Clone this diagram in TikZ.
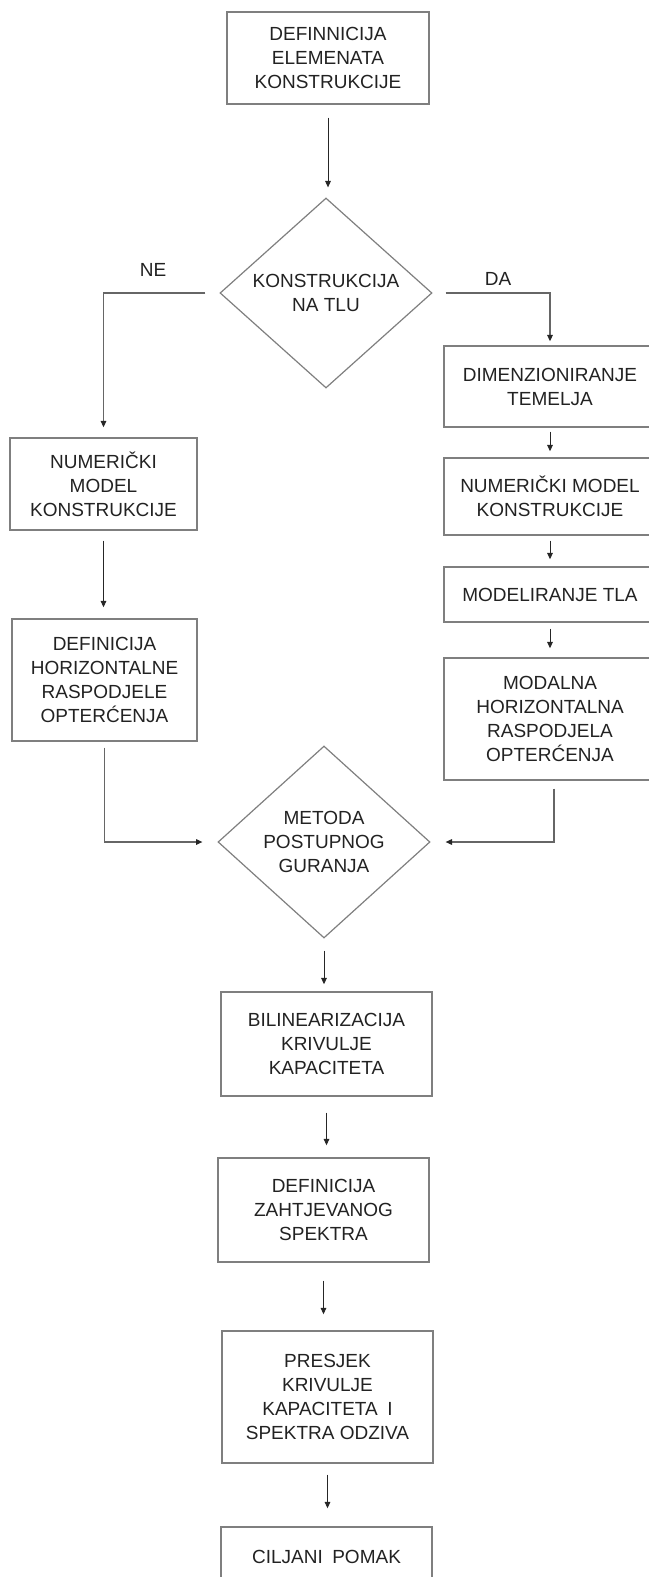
\documentclass[tikz,border=0pt]{standalone}
\usepackage{fontspec}
\setmainfont{Liberation Sans}
\usetikzlibrary{shapes.geometric,arrows.meta}
\definecolor{boxgray}{HTML}{7F7F7F}
\definecolor{txtgray}{HTML}{222222}
\begin{document}
\begin{tikzpicture}[x=0.5pt, y=-0.5pt,
  font=\fontsize{9.5}{12}\selectfont, text=txtgray,
  box/.style={draw=boxgray, line width=0.7pt, align=center, inner sep=0pt},
  dia/.style={draw=boxgray, line width=0.6pt, shape=diamond, align=center, inner sep=0pt,
    minimum width=106pt},
  arr/.style={draw=black!85, line width=0.5pt, -{Triangle[length=3.2pt,width=2.8pt]}},
  elbow/.style={draw=boxgray!80!black, line width=0.6pt,
    -{Triangle[length=3.2pt,width=2.8pt,color=black!85]}}]
  \useasboundingbox (0,0) rectangle (648,1577);
  % start
  \node[box, minimum width=101pt, minimum height=46pt] (def) at (328,58)
    {DEFINNICIJA\\ELEMENATA\\KONSTRUKCIJE};
  % decision "konstrukcija na tlu"
  \node[dia, minimum height=95pt] (dia1) at (326,293) {KONSTRUKCIJA\\NA TLU};
  \node (lblne) at (153,270) {NE};
  \node (lblda) at (498,279) {DA};
  % left branch (NE)
  \node[box, minimum width=93.5pt, minimum height=46pt] (left1) at (103.5,484)
    {NUMERIČKI\\MODEL\\KONSTRUKCIJE};
  \node[box, minimum width=92.5pt, minimum height=61pt] (left2) at (104.5,680)
    {DEFINICIJA\\HORIZONTALNE\\RASPODJELE\\OPTERĆENJA};
  % right branch (DA)
  \node[box, minimum width=106pt, minimum height=40.5pt] (right1) at (550,386.5)
    {DIMENZIONIRANJE\\TEMELJA};
  \node[box, minimum width=106pt, minimum height=38.5pt] (right2) at (550,496.5)
    {NUMERIČKI MODEL\\KONSTRUKCIJE};
  \node[box, minimum width=106pt, minimum height=27.5pt] (right3) at (550,594.5)
    {MODELIRANJE TLA};
  \node[box, minimum width=106pt, minimum height=61pt] (right4) at (550,719)
    {MODALNA\\HORIZONTALNA\\RASPODJELA\\OPTERĆENJA};
  % pushover
  \node[dia, minimum height=96pt] (dia2) at (324,842) {METODA\\POSTUPNOG\\GURANJA};
  % lower chain
  \node[box, minimum width=105.5pt, minimum height=52pt] (bilin) at (326.5,1044)
    {BILINEARIZACIJA\\KRIVULJE\\KAPACITETA};
  \node[box, minimum width=105.5pt, minimum height=52pt] (spektar) at (323.5,1210)
    {DEFINICIJA\\ZAHTJEVANOG\\SPEKTRA};
  \node[box, minimum width=105.5pt, minimum height=66pt] (presjek) at (327.5,1397)
    {PRESJEK\\KRIVULJE\\KAPACITETA\enspace I\\SPEKTRA ODZIVA};
  \node[box, minimum width=105.5pt, minimum height=30pt] (pomak) at (326.5,1557)
    {CILJANI\enspace POMAK};
  % connectors
  \draw[arr, shorten <=6.5pt, shorten >=5pt] (def.south) -- (def.south |- dia1.north);
  \draw[elbow, shorten <=7pt, shorten >=5pt] (dia1.west) -| (left1.north);
  \draw[elbow, shorten <=6.5pt, shorten >=2pt] (dia1.east) -| (right1.north);
  \draw[arr, shorten <=2pt, shorten >=3pt] (right1.south) -- (right2.north);
  \draw[arr, shorten <=2.5pt, shorten >=3.5pt] (right2.south) -- (right3.north);
  \draw[arr, shorten <=3pt, shorten >=4.5pt] (right3.south) -- (right4.north);
  \draw[arr, shorten <=5pt, shorten >=5.5pt] (left1.south) -- (left1.south |- left2.north);
  \draw[elbow, shorten <=3pt, shorten >=7.5pt] (left2.south) |- (dia2.west);
  \draw[elbow, shorten <=4pt, shorten >=7.5pt] ([xshift=2pt]right4.south) |- (dia2.east);
  \draw[arr, shorten <=6pt, shorten >=3.5pt] (dia2.south) -- (dia2.south |- bilin.north);
  \draw[arr, shorten <=8pt, shorten >=6pt] (bilin.south) -- (bilin.south |- spektar.north);
  \draw[arr, shorten <=9pt, shorten >=8pt] (spektar.south) -- (spektar.south |- presjek.north);
  \draw[arr, shorten <=5.5pt, shorten >=9pt] (presjek.south) -- (presjek.south |- pomak.north);
\end{tikzpicture}
\end{document}
